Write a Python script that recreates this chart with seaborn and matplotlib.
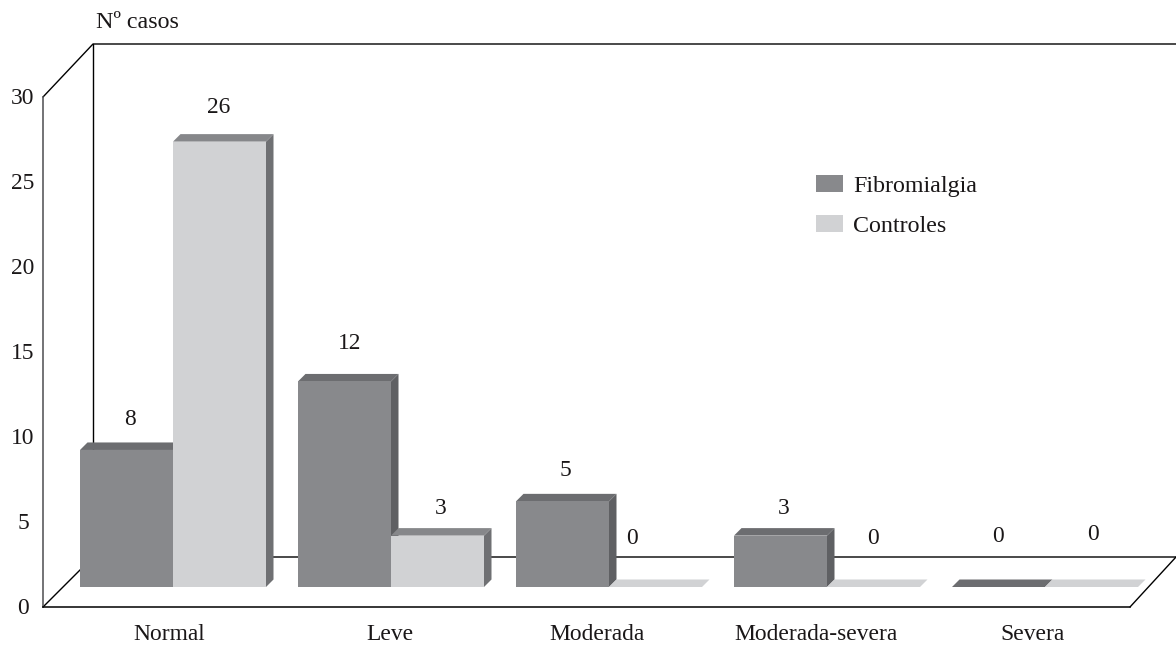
import numpy as np
import pandas as pd
import seaborn as sns
import matplotlib.pyplot as plt
from matplotlib.patches import Polygon
from matplotlib.transforms import ScaledTranslation

# ==========================================
# Data
# ==========================================
CATEGORIES = ["Normal", "Leve", "Moderada", "Moderada-severa", "Severa"]
SERIES = ["Fibromialgia", "Controles"]
FIBROMIALGIA = [8, 12, 5, 3, 0]
CONTROLES = [26, 3, 0, 0, 0]
Y_TICKS = [0, 5, 10, 15, 20, 25, 30]

# ==========================================
# Styling (everything measured in pixels of the 1176x647 picture)
# ==========================================
W, H = 1176, 647
FRONT_L, FRONT_R, FRONT_T, FRONT_B = 43, 1130, 97, 607
PX_PER_CAT, PX_PER_UNIT = 218, 17.13
FIRST_CENTER = 173
BAR_BASE = 587
DEPTH = 7.5

COLORS = {"Fibromialgia": "#88898c", "Controles": "#d1d2d4"}
TOP_COLORS = {"Fibromialgia": "#6c6d70", "Controles": "#86878a"}
SIDE_COLORS = {"Fibromialgia": "#5f6063", "Controles": "#6f7073"}
FLAT_COLORS = {"Fibromialgia": "#6c6d70", "Controles": "#d1d2d4"}
TEXT_COLOR = "#1a1718"
FONT_SIZE = 16.9
LEGEND_SIZE = 17.3

# hand nudges of the value labels, same order as the data
LABEL_DX = {"Fibromialgia": [3.5, 5.5, 2.5, 3, -1], "Controles": [-0.5, 3.5, -23.5, -0.5, 1]}
LABEL_DY = {"Fibromialgia": [30, 38, 31, 27, 50], "Controles": [34, 27, 48, 48, 52]}
XLABEL_NUDGE = [-4, -1, -12, -11, -12]

sns.set_style("white")
plt.rcParams["font.family"] = ["Liberation Serif", "DejaVu Serif"]
plt.rcParams["font.size"] = FONT_SIZE
plt.rcParams["text.color"] = TEXT_COLOR
plt.rcParams["xtick.labelcolor"] = TEXT_COLOR
plt.rcParams["ytick.labelcolor"] = TEXT_COLOR

fig = plt.figure(figsize=(W / 100, H / 100), dpi=100, facecolor="white")
front_rect = [FRONT_L / W, 1 - FRONT_B / H, (FRONT_R - FRONT_L) / W, (FRONT_B - FRONT_T) / H]

# --- Back walls and floor, in picture pixels ---
ax_wall = fig.add_axes([0, 0, 1, 1])
ax_wall.set_xlim(0, W)
ax_wall.set_ylim(H, 0)
ax_wall.axis("off")
ax_wall.plot([43, 93, 1176], [97, 44, 44], color="black", lw=1.0)
ax_wall.plot([93, 93], [44, 557], color="black", lw=1.0)
ax_wall.plot([43, 93, 1176], [607, 557, 557], color="black", lw=1.0)
ax_wall.plot([1130, 1176], [607, 557], color="black", lw=1.0)

# --- Front plane with the value axis ---
ax_y = fig.add_axes(front_rect, facecolor="none")
ax_y.set_ylim(0, 30)
ax_y.set_xticks([])
ax_y.set_yticks(Y_TICKS, [str(v) for v in Y_TICKS])
ax_y.tick_params(axis="y", length=0, pad=14.4, labelsize=FONT_SIZE)
for lab in ax_y.get_yticklabels():
	lab.set_horizontalalignment("center")
	lab.set_transform(lab.get_transform() + ScaledTranslation(0, 1 / 72, fig.dpi_scale_trans))
for side in ["top", "right"]:
	ax_y.spines[side].set_visible(False)
ax_y.spines["left"].set_color("#4d4d4f")
ax_y.spines["left"].set_linewidth(1.1)
ax_y.spines["bottom"].set_color("black")
ax_y.spines["bottom"].set_linewidth(1.1)

# --- Bars ---
df = pd.DataFrame({
	"categoria": CATEGORIES * 2,
	"serie": [SERIES[0]] * len(CATEGORIES) + [SERIES[1]] * len(CATEGORIES),
	"casos": FIBROMIALGIA + CONTROLES,
})

ax = fig.add_axes(front_rect, facecolor="none")
sns.barplot(data=df, x="categoria", y="casos", hue="serie", order=CATEGORIES, hue_order=SERIES,
			palette=COLORS, width=186 / PX_PER_CAT, gap=0, saturation=1, errorbar=None,
			linewidth=0, ax=ax, zorder=5)

ax.set_xlim((FRONT_L - FIRST_CENTER) / PX_PER_CAT, (FRONT_R - FIRST_CENTER) / PX_PER_CAT)
base = (FRONT_B - BAR_BASE) / PX_PER_UNIT
ax.set_ylim(-base, (FRONT_B - FRONT_T) / PX_PER_UNIT - base)
ax.set_xlabel("")
ax.set_ylabel("")
ax.set_yticks([])
ax.set_xticks(np.arange(len(CATEGORIES)) + np.array(XLABEL_NUDGE) / PX_PER_CAT, CATEGORIES)
ax.tick_params(axis="x", length=0, pad=12.5, labelsize=FONT_SIZE)
sns.despine(ax=ax, left=True, bottom=True)

# Fake 3D faces taken from the bars seaborn drew
dx = DEPTH / PX_PER_CAT
dy = DEPTH / PX_PER_UNIT
for order, (name, bars) in enumerate(zip(SERIES, ax.containers)):
	for i, bar in enumerate(bars):
		bar.set_clip_on(False)
		x0, x1 = bar.get_x(), bar.get_x() + bar.get_width()
		h = bar.get_height()
		top_color = TOP_COLORS[name] if h > 0 else FLAT_COLORS[name]
		ax.add_patch(Polygon([(x1, 0), (x1 + dx, dy), (x1 + dx, h + dy), (x1, h)],
							 facecolor=SIDE_COLORS[name], lw=0, clip_on=False, zorder=2 + order))
		ax.add_patch(Polygon([(x0, h), (x0 + dx, h + dy), (x1 + dx, h + dy), (x1, h)],
							 facecolor=top_color, lw=0, clip_on=False, zorder=2 + order))
		ax.annotate(str(int(h)), (bar.get_x() + bar.get_width() / 2, h),
					xytext=(LABEL_DX[name][i], LABEL_DY[name][i]), textcoords="offset pixels",
					ha="center", va="center", fontsize=FONT_SIZE, annotation_clip=False)

# --- Legend and axis title ---
handles, labels = ax.get_legend_handles_labels()
ax.legend(handles, labels, loc="upper left", bbox_to_anchor=(816 / W, 1 - 175 / H),
		  bbox_transform=fig.transFigure, frameon=False, fontsize=LEGEND_SIZE,
		  handlelength=26 / 23.5, handleheight=17 / 23.5, handletextpad=0.45,
		  labelspacing=0.75, borderpad=0, borderaxespad=0)

fig.text(96 / W, 1 - 23 / H, "Nº casos", ha="left", va="center", fontsize=LEGEND_SIZE)

fig.savefig("out.png", dpi=100)
plt.close(fig)
